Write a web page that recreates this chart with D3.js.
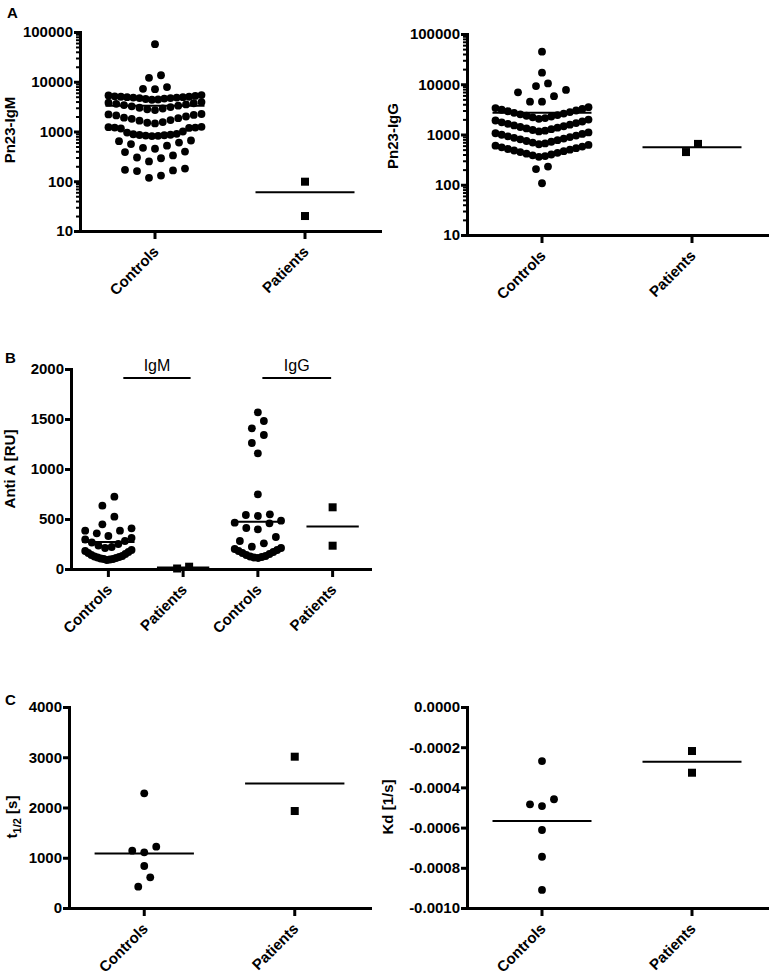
<!DOCTYPE html>
<html>
<head>
<meta charset="utf-8">
<script src="https://cdnjs.cloudflare.com/ajax/libs/d3/7.8.5/d3.min.js"></script>
<style>
  body { margin: 0; background: #fff; }
  svg text { font-family: "Liberation Sans", Arial, sans-serif; }
</style>
</head>
<body>
<div id="chart"></div>
<script>
// Categories and tick labels
var categories = ["Controls", "Patients"];
var categoriesB = ["Controls", "Patients", "Controls", "Patients"];
var logTicks = [10, 100, 1000, 10000, 100000];
var ticksB = [0, 500, 1000, 1500, 2000];
var ticksT = [0, 1000, 2000, 3000, 4000];
var ticksKd = [0, -0.0002, -0.0004, -0.0006, -0.0008, -0.0010];

// A: Pn23-IgM
var pnIgmControls = [117, 130, 160, 165, 170, 180,
  250, 290, 300, 330, 385, 395,
  450, 470, 520, 560, 600, 640, 660,
  810, 820, 830, 840, 850, 860, 880, 900, 950, 1000, 1150, 1180, 1200, 1200, 1220, 1240,
  1450, 1500, 1550, 1650, 1700, 1800, 1850, 1900, 2000, 2100, 2150, 2200, 2250,
  2700, 2800, 2900, 3000, 3100, 3200, 3300, 3400, 3500, 3600, 3700, 3800, 3900,
  4350, 4400, 4500, 4600, 4700, 4700, 4800, 4800, 4900, 4900, 5000, 5000, 5100, 5200, 5300, 5400,
  7100, 7200, 7800, 12000, 13500, 57000];
var pnIgmPatients = [98, 20];
var pnIgmMeans = [3300, 60];

// A: Pn23-IgG
var pnIggControls = [107, 205, 230,
  360, 372, 385, 400, 415, 432, 447, 465, 480, 498, 515, 535, 556, 575, 598, 620,
  640, 665, 690, 718, 742, 770, 800, 828, 858, 890, 920, 952, 988, 1025, 1060, 1100,
  1150, 1190, 1230, 1275, 1320, 1365, 1410, 1460, 1515, 1570, 1630, 1690, 1750, 1815, 1900, 1980,
  2050, 2120, 2200, 2280, 2360, 2440, 2520, 2610, 2700, 2800, 2900, 3000, 3110, 3230, 3360, 3500,
  4500, 4500, 5800, 6900, 7700, 9200, 10400, 17000, 44400];
var pnIggPatients = [447, 650];
var pnIggMeans = [2700, 556];

// B: Anti A [RU]
var antiIgmControls = [90, 95, 100, 100, 105, 110, 115, 120, 125, 130, 140, 150, 160, 170, 180, 190,
  210, 220, 235, 250, 265, 280, 295, 310,
  330, 357, 383, 383, 407, 447, 523, 633, 723];
var antiIgmPatients = [5, 23];
var antiIggControls = [110, 115, 120, 125, 130, 140, 150, 160, 170, 180, 190, 200, 210,
  223, 257, 280, 320, 397, 410, 457, 463, 483, 530, 540, 547,
  747, 1157, 1260, 1340, 1407, 1480, 1567];
var antiIggPatients = [617, 233];
var antiMeans = [270, 14, 473, 425];

// C: t1/2 and Kd
var halfControls = [2282, 1220, 1108, 1140, 836, 611, 424];
var halfPatients = [3011, 1930];
var halfMeans = [1087, 2480];
var kdControls = [-0.000269, -0.000484, -0.000493, -0.000459, -0.000612, -0.000745, -0.000910];
var kdPatients = [-0.000219, -0.000327];
var kdMeans = [-0.000567, -0.000272];

var svg = d3.select("#chart")
  .append("svg")
  .attr("width", 771)
  .attr("height", 974)
  .style("background", "#fff");

// Prism-like scatter: group points into rows from the bottom up,
// lowest value in the middle of the row, higher ones pushed outward
function rowLayout(values, y, rowH, maxHalf) {
  var pts = values.map(v => ({ v: v, y: y(v), dx: 0 }));
  var rest = pts.slice().sort((a, b) => b.y - a.y);
  while (rest.length) {
    var start = rest[0].y;
    var n = 0;
    while (n < rest.length && rest[n].y >= start - rowH) n++;
    var row = rest.slice(0, n);
    rest = rest.slice(n);
    var s = n > 1 ? Math.min(12, 2 * maxHalf / (n - 1)) : 0;
    var slots = d3.range(n).map(j => (j - (n - 1) / 2) * s);
    slots.sort((a, b) => (Math.abs(a) - Math.abs(b)) || (a - b));
    row.forEach((p, k) => { p.dx = slots[k]; });
  }
  return pts;
}

function panel(cfg) {
  var g = svg.append("g");
  var x = d3.scaleBand()
    .domain(d3.range(cfg.cats.length))
    .range([cfg.x0, cfg.x1]);
  var bw = x.bandwidth();
  var y = cfg.y;

  // y axis
  var gy = g.append("g")
    .attr("transform", `translate(${cfg.x0},0)`)
    .call(d3.axisLeft(y).tickValues(cfg.ticks).tickFormat(cfg.fmt)
      .tickSize(6).tickSizeOuter(0).tickPadding(1));

  if (cfg.minor) {
    var gm = g.append("g")
      .attr("transform", `translate(${cfg.x0},0)`)
      .call(d3.axisLeft(y).tickValues(cfg.minor).tickFormat("").tickSize(4).tickSizeOuter(0));
    gm.select(".domain").remove();
    gm.selectAll(".tick line").attr("stroke-width", 2);
  }

  // x axis
  var gx = g.append("g")
    .attr("transform", `translate(0,${cfg.yBot})`)
    .call(d3.axisBottom(x).tickFormat(i => cfg.cats[i]).tickSize(8).tickSizeOuter(0));
  gx.selectAll("text")
    .attr("y", 0)
    .attr("dy", "0.35em")
    .attr("transform", "translate(1,18) rotate(-45)")
    .attr("text-anchor", "end");

  [gy, gx].forEach(a => {
    a.attr("font-family", null).attr("font-size", null);
    a.select(".domain").attr("stroke-width", 3).attr("stroke-linecap", "square");
    a.selectAll(".tick line").attr("stroke-width", 3);
    a.selectAll(".tick text")
      .attr("font-size", 15)
      .attr("font-weight", "bold")
      .attr("fill", "#000");
  });

  // points
  cfg.series.forEach((vals, i) => {
    var cx = x(i) + bw / 2;
    var pts = rowLayout(vals, y, cfg.rowH, bw * 0.31);
    if (cfg.shapes[i] === "circle") {
      g.selectAll(null).data(pts).enter().append("circle")
        .attr("cx", d => cx + d.dx)
        .attr("cy", d => d.y)
        .attr("r", 3.9)
        .attr("fill", "#000");
    } else {
      g.selectAll(null).data(pts).enter().append("rect")
        .attr("x", d => cx + d.dx - 4)
        .attr("y", d => d.y - 4)
        .attr("width", 8)
        .attr("height", 8)
        .attr("fill", "#000");
    }
  });

  // mean lines
  g.selectAll(null).data(cfg.means).enter().append("line")
    .attr("x1", (d, i) => x(i) + bw / 2 - bw * cfg.meanHalf)
    .attr("x2", (d, i) => x(i) + bw / 2 + bw * cfg.meanHalf)
    .attr("y1", d => y(d))
    .attr("y2", d => y(d))
    .attr("stroke", "#000")
    .attr("stroke-width", 2);

  // y title
  var t = g.append("text")
    .attr("transform", `translate(${cfg.titleX},${cfg.titleY}) rotate(-90)`)
    .attr("dy", "0.35em")
    .attr("text-anchor", "middle")
    .attr("font-size", 15)
    .attr("font-weight", "bold");
  cfg.title.forEach(part => {
    t.append("tspan")
      .attr("font-size", part.sub ? 11 : 15)
      .attr("dy", part.dy || 0)
      .text(part.text);
  });

  return { g: g, x: x, y: y };
}

var minorLog = logTicks.slice(0, -1).flatMap(t => d3.range(2, 10).map(m => m * t));
var fmtLog = d => String(d);

// Panel A, left
panel({
  cats: categories, x0: 80, x1: 380, yBot: 231, rowH: 10,
  y: d3.scaleLog().domain([10, 100000]).range([231, 32]),
  ticks: logTicks, minor: minorLog, fmt: fmtLog,
  series: [pnIgmControls, pnIgmPatients], shapes: ["circle", "square"],
  means: pnIgmMeans, meanHalf: 0.33,
  title: [{ text: "Pn23-IgM" }], titleX: 15, titleY: 130
});

// Panel A, right
panel({
  cats: categories, x0: 467, x1: 767, yBot: 235, rowH: 12,
  y: d3.scaleLog().domain([10, 100000]).range([235, 34]),
  ticks: logTicks, minor: minorLog, fmt: fmtLog,
  series: [pnIggControls, pnIggPatients], shapes: ["circle", "square"],
  means: pnIggMeans, meanHalf: 0.33,
  title: [{ text: "Pn23-IgG" }], titleX: 398, titleY: 136
});

// Panel B
var pB = panel({
  cats: categoriesB, x0: 71, x1: 370, yBot: 569, rowH: 10,
  y: d3.scaleLinear().domain([0, 2000]).range([569, 369]),
  ticks: ticksB, fmt: d => String(d),
  series: [antiIgmControls, antiIgmPatients, antiIggControls, antiIggPatients],
  shapes: ["circle", "square", "circle", "square"],
  means: antiMeans, meanHalf: 0.35,
  title: [{ text: "Anti A [RU]" }], titleX: 15, titleY: 469
});

// IgM / IgG group bars in panel B
var bwB = pB.x.bandwidth();
var groupLabels = ["IgM", "IgG"];
var groupSpan = [[0.7, 1.6], [2.56, 3.48]];
groupLabels.forEach((lab, i) => {
  var xa = pB.x(0) + groupSpan[i][0] * bwB;
  var xb = pB.x(0) + groupSpan[i][1] * bwB;
  var yy = pB.y(1910);
  pB.g.append("line")
    .attr("x1", xa).attr("x2", xb)
    .attr("y1", yy).attr("y2", yy)
    .attr("stroke", "#000").attr("stroke-width", 2);
  pB.g.append("text")
    .attr("x", (xa + xb) / 2)
    .attr("y", yy - 7)
    .attr("text-anchor", "middle")
    .attr("font-size", 16)
    .text(lab);
});

// Panel C, left
panel({
  cats: categories, x0: 69, x1: 370, yBot: 908, rowH: 10,
  y: d3.scaleLinear().domain([0, 4000]).range([908, 707]),
  ticks: ticksT, fmt: d => String(d),
  series: [halfControls, halfPatients], shapes: ["circle", "square"],
  means: halfMeans, meanHalf: 0.33,
  title: [{ text: "t" }, { text: "1/2", sub: true, dy: 4 }, { text: " [s]", dy: -4 }],
  titleX: 17, titleY: 817
});

// Panel C, right
panel({
  cats: categories, x0: 467, x1: 767, yBot: 908, rowH: 10,
  y: d3.scaleLinear().domain([-0.0010, 0]).range([908, 707]),
  ticks: ticksKd, fmt: d => d.toFixed(4),
  series: [kdControls, kdPatients], shapes: ["circle", "square"],
  means: kdMeans, meanHalf: 0.33,
  title: [{ text: "Kd [1/s]" }], titleX: 393, titleY: 807
});

// panel letters
var letters = [["A", 7, 18], ["B", 5, 363], ["C", 5, 705]];
svg.selectAll(null).data(letters).enter().append("text")
  .attr("x", d => d[1])
  .attr("y", d => d[2])
  .attr("font-size", 15)
  .attr("font-weight", "bold")
  .text(d => d[0]);
</script>
</body>
</html>
